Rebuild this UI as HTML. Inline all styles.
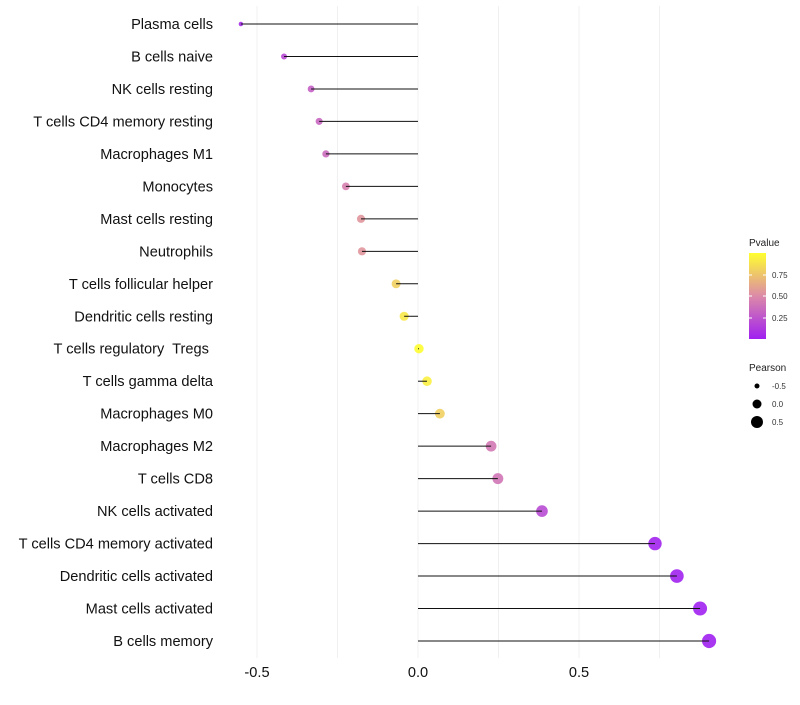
<!DOCTYPE html>
<html><head><meta charset="utf-8"><style>
body{margin:0;background:#fff;font-family:"Liberation Sans",sans-serif}
svg text{font-family:"Liberation Sans",sans-serif}
</style></head><body>
<svg id="chart" width="800" height="700" xmlns="http://www.w3.org/2000/svg">
<defs><linearGradient id="pg" x1="0" y1="1" x2="0" y2="0">
<stop offset="0" stop-color="#a020f0"/><stop offset="0.5" stop-color="#dc8aa8"/><stop offset="1" stop-color="#ffff30"/></linearGradient></defs>
<g id="grid"></g>
<g id="marks"></g>
<g id="ylabels"></g>
<g id="xlabels"></g>
<g>
<text x="749" y="246" font-size="10" fill="#222">Pvalue</text>
<rect x="749" y="253" width="17" height="86" fill="url(#pg)"/>
<line x1="749" y1="275" x2="752" y2="275" stroke="#fff"/><line x1="763" y1="275" x2="766" y2="275" stroke="#fff"/>
<line x1="749" y1="296" x2="752" y2="296" stroke="#fff"/><line x1="763" y1="296" x2="766" y2="296" stroke="#fff"/>
<line x1="749" y1="318" x2="752" y2="318" stroke="#fff"/><line x1="763" y1="318" x2="766" y2="318" stroke="#fff"/>
<text x="772" y="278" font-size="8" fill="#333">0.75</text>
<text x="772" y="299" font-size="8" fill="#333">0.50</text>
<text x="772" y="321" font-size="8" fill="#333">0.25</text>
</g>
<g>
<text x="749" y="371" font-size="10" fill="#222">Pearson</text>
<circle cx="757" cy="386" r="2.5" fill="#000"/><text x="772" y="389" font-size="8" fill="#333">-0.5</text>
<circle cx="757" cy="404" r="4.5" fill="#000"/><text x="772" y="407" font-size="8" fill="#333">0.0</text>
<circle cx="757" cy="422" r="6" fill="#000"/><text x="772" y="425" font-size="8" fill="#333">0.5</text>
</g>
</svg>
<script>
const categories=["Plasma cells","B cells naive","NK cells resting","T cells CD4 memory resting","Macrophages M1","Monocytes","Mast cells resting","Neutrophils","T cells follicular helper","Dendritic cells resting","T cells regulatory  Tregs\u00a0","T cells gamma delta","Macrophages M0","Macrophages M2","T cells CD8","NK cells activated","T cells CD4 memory activated","Dendritic cells activated","Mast cells activated","B cells memory"];
const pearson=[-0.55,-0.416,-0.332,-0.307,-0.286,-0.224,-0.177,-0.174,-0.068,-0.043,0.003,0.028,0.068,0.227,0.248,0.385,0.736,0.804,0.876,0.904];
const pvalues=[0.05,0.2,0.3,0.33,0.36,0.45,0.55,0.55,0.8,0.9,0.99,0.93,0.8,0.42,0.4,0.2,0.02,0.01,0.005,0.002];
const xTicks=[-0.5,0,0.5];
const xTickLabels=["-0.5","0.0","0.5"];
const gridVals=[-0.5,-0.25,0,0.25,0.5,0.75];
const NS="http://www.w3.org/2000/svg";
function xs(v){return 418+v*322;}
function ys(i){return 24+i*(617/19);}
function rs(v){return Math.sqrt(Math.max(3,22+31*v));}
function col(p){const a=[160,32,240],m=[220,138,168],b=[255,255,48];let c;
 if(p<0.5){const t=p/0.5;c=a.map((x,k)=>Math.round(x+(m[k]-x)*t));}else{const t=(p-0.5)/0.5;c=m.map((x,k)=>Math.round(x+(b[k]-x)*t));}
 return `rgb(${c[0]},${c[1]},${c[2]})`;}
function mk(t,a,parent){const e=document.createElementNS(NS,t);for(const k in a)e.setAttribute(k,a[k]);parent.appendChild(e);return e;}
const grid=document.getElementById('grid'),marks=document.getElementById('marks'),yl=document.getElementById('ylabels'),xl=document.getElementById('xlabels');
gridVals.forEach(v=>{const l=mk('line',{x1:xs(v),x2:xs(v),y1:6,y2:658,stroke:'#f0f0f0','stroke-width':1},grid);

});
categories.forEach((c,i)=>{const y=ys(i);
 const ci=mk('circle',{cx:xs(pearson[i]),cy:y,r:rs(pearson[i]),fill:col(pvalues[i]),'fill-opacity':0.9},marks);
 
 
 const ln=mk('line',{x1:xs(0),x2:xs(pearson[i]),y1:y,y2:y,stroke:'#111','stroke-width':1},marks);
 
 
 const t=mk('text',{x:213,y:y+5,'text-anchor':'end','font-size':14.6,fill:'#111'},yl);t.setAttribute('xml:space','preserve');t.style.whiteSpace='pre';t.textContent=c;
 
 });
xTicks.forEach((v,i)=>{const t=mk('text',{x:xs(v),y:677,'text-anchor':'middle','font-size':14.6,fill:'#111'},xl);t.textContent=xTickLabels[i];
 
 });
</script>
</body></html>
